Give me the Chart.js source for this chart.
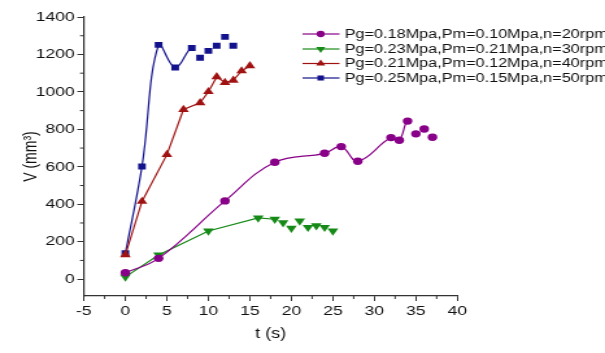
<!DOCTYPE html>
<html>
<head>
<meta charset="utf-8">
<script src="https://cdn.jsdelivr.net/npm/chart.js@4.4.1/dist/chart.umd.min.js"></script>
<style>
  html, body { margin: 0; padding: 0; background: #fff; overflow: hidden; }
  #wrap { width: 466px; height: 353px; transform: scaleX(1.2983); transform-origin: 0 0; }
</style>
</head>
<body>
<div id="wrap"><canvas id="chart" width="466" height="353"></canvas></div>
<script>
// data
const purpleT = [0, 4, 12, 18, 24, 26, 28, 32, 33, 34, 35, 36, 37];
const purpleV = [34, 111, 418, 624, 672, 708, 630, 756, 742, 844, 776, 802, 758];
const greenT = [0, 4, 10, 16, 18, 19, 20, 21, 22, 23, 24, 25];
const greenV = [12, 129, 257, 327, 320, 302, 272, 311, 277, 286, 277, 257];
const redT = [0, 2, 5, 7, 9, 10, 11, 12, 13, 14, 15];
const redV = [130, 415, 665, 906, 942, 1001, 1080, 1050, 1062, 1112, 1139];
const blueT = [0, 2, 4, 6, 8, 9, 10, 11, 12, 13];
const blueV = [138, 602, 1251, 1130, 1234, 1182, 1219, 1246, 1294, 1246];

const seriesNames = [
  'Pg=0.18Mpa,Pm=0.10Mpa,n=20rpm',
  'Pg=0.23Mpa,Pm=0.21Mpa,n=30rpm',
  'Pg=0.21Mpa,Pm=0.12Mpa,n=40rpm',
  'Pg=0.25Mpa,Pm=0.15Mpa,n=50rpm'
];
const xTicks = [-5, 0, 5, 10, 15, 20, 25, 30, 35, 40];
const yTicks = [0, 200, 400, 600, 800, 1000, 1200, 1400];

const FONT = '"Liberation Sans", Arial, sans-serif';
const AXIS = '#333';
const TEXT = '#111';

const toPts = (t, v) => t.map((x, i) => ({ x: x, y: v[i] }));
// the original only draws the connecting line over the first part of some series
const lineUntil = (color, last) => ctx => ctx.p0DataIndex >= last ? 'rgba(0,0,0,0)' : color;

const datasets = [
  { label: seriesNames[0], data: toPts(purpleT, purpleV), color: '#880088', style: 'circle', r: 3.7, rot: 0, tension: 0.4, last: 9 },
  { label: seriesNames[1], data: toPts(greenT, greenV), color: '#168a16', style: 'triangle', r: 4.8, rot: 180, tension: 0, last: 4 },
  { label: seriesNames[2], data: toPts(redT, redV), color: '#a01212', style: 'triangle', r: 4.8, rot: 0, tension: 0, last: 99 },
  { label: seriesNames[3], data: toPts(blueT, blueV), color: '#12128c', style: 'rect', r: 4.2, rot: 0, tension: 0.4, last: 4 }
].map(d => ({
  label: d.label,
  data: d.data,
  borderColor: d.color,
  backgroundColor: d.color,
  borderWidth: 1.2,
  pointStyle: d.style,
  pointRotation: d.rot,
  pointRadius: d.r,
  pointBorderWidth: 0,
  tension: d.tension,
  segment: { borderColor: lineUntil(d.color, d.last) }
}));

// small unlabeled ticks between the major ones
const minorTicks = {
  id: 'minorTicks',
  afterDraw(chart) {
    const c = chart.ctx, xs = chart.scales.x, ys = chart.scales.y;
    c.save();
    c.strokeStyle = AXIS;
    c.lineWidth = 1;
    c.beginPath();
    for (let i = 0; i < xTicks.length - 1; i++) {
      const px = xs.getPixelForValue((xTicks[i] + xTicks[i + 1]) / 2);
      c.moveTo(px, ys.bottom);
      c.lineTo(px, ys.bottom + 3);
    }
    for (let i = 0; i < yTicks.length - 1; i++) {
      const py = ys.getPixelForValue((yTicks[i] + yTicks[i + 1]) / 2);
      c.moveTo(xs.left, py);
      c.lineTo(xs.left - 3, py);
    }
    c.stroke();
    c.restore();
  }
};

// legend box in the upper right, runs off the edge like the original
const legendBox = {
  id: 'legendBox',
  afterDraw(chart) {
    const c = chart.ctx;
    const rows = [34, 49, 63.5, 78];
    c.save();
    c.font = '12.5px ' + FONT;
    c.textBaseline = 'middle';
    chart.data.datasets.forEach((ds, i) => {
      const y = rows[i];
      c.strokeStyle = ds.borderColor;
      c.fillStyle = ds.borderColor;
      c.lineWidth = 1.2;
      c.beginPath();
      c.moveTo(233, y);
      c.lineTo(261.5, y);
      c.stroke();
      const mx = 247, r = ds.pointRadius * 0.85;
      c.beginPath();
      if (ds.pointStyle === 'circle') {
        c.arc(mx, y, r, 0, Math.PI * 2);
      } else if (ds.pointStyle === 'rect') {
        const s = r * Math.SQRT1_2;
        c.rect(mx - s, y - s, 2 * s, 2 * s);
      } else {
        const dir = ds.pointRotation === 180 ? -1 : 1;
        c.moveTo(mx, y - dir * r);
        c.lineTo(mx - r * 0.866, y + dir * r * 0.5);
        c.lineTo(mx + r * 0.866, y + dir * r * 0.5);
        c.closePath();
      }
      c.fill();
      c.fillStyle = TEXT;
      c.fillText(ds.label, 265.5, y + 0.5);
    });
    c.restore();
  }
};

new Chart(document.getElementById('chart'), {
  type: 'line',
  data: { datasets: datasets },
  options: {
    responsive: false,
    maintainAspectRatio: false,
    animation: false,
    devicePixelRatio: 1,
    layout: { padding: { top: 17, right: 113.7, bottom: 0, left: 0 } },
    plugins: { legend: { display: false }, tooltip: { enabled: false } },
    scales: {
      x: {
        type: 'linear',
        min: -5,
        max: 40,
        afterBuildTicks: s => { s.ticks = xTicks.map(v => ({ value: v })); },
        afterFit: s => { s.height = 57; },
        grid: { drawOnChartArea: false, tickLength: 5, color: AXIS, tickWidth: 1 },
        border: { color: AXIS, width: 1.2 },
        ticks: { color: TEXT, padding: 2, maxRotation: 0, font: { family: FONT, size: 13.5 }, callback: v => String(v) },
        title: { display: true, text: 't (s)', color: TEXT, font: { family: FONT, size: 14 }, padding: { top: 0, bottom: 10 } }
      },
      y: {
        type: 'linear',
        min: -90,
        max: 1400,
        afterBuildTicks: s => { s.ticks = yTicks.map(v => ({ value: v })); },
        afterFit: s => { s.width = 64.6; },
        grid: { drawOnChartArea: false, tickLength: 5, color: AXIS, tickWidth: 1 },
        border: { color: AXIS, width: 1.2 },
        ticks: { color: TEXT, padding: 2, font: { family: FONT, size: 13.5 }, callback: v => String(v) },
        title: { display: true, text: 'V (mm³)', color: TEXT, font: { family: FONT, size: 14 }, padding: { top: 16, bottom: 0 } }
      }
    }
  },
  plugins: [minorTicks, legendBox]
});
</script>
</body>
</html>
